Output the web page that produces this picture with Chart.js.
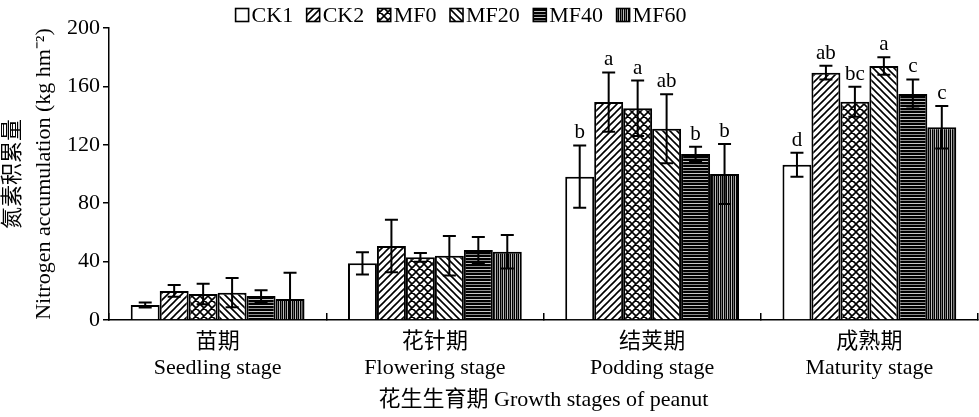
<!DOCTYPE html>
<html><head><meta charset="utf-8">
<script src="https://cdn.jsdelivr.net/npm/chart.js@4.4.1/dist/chart.umd.min.js"></script>
<style>html,body{margin:0;padding:0;background:#fff;}#wrap{width:979px;height:417px;}</style>
</head><body><div id="wrap"><canvas id="c" width="979" height="417"></canvas></div>
<script>
// ---- data ----
const stages = [['苗期', 'Seedling stage'], ['花针期', 'Flowering stage'], ['结荚期', 'Podding stage'], ['成熟期', 'Maturity stage']];
const seriesNames = ['CK1', 'CK2', 'MF0', 'MF20', 'MF40', 'MF60'];
const ck1 = [10.3, 38.8, 98.2, 106.4];
const ck1Sd = [1.7, 7.6, 21.4, 8.2];
const ck1Sig = ['', '', 'b', 'd'];
const ck2 = [19.9, 50.7, 149.3, 169.4];
const ck2Sd = [4.0, 18.0, 20.3, 4.7];
const ck2Sig = ['', '', 'a', 'ab'];
const mf0 = [17.8, 42.9, 145.0, 149.5];
const mf0Sd = [7.0, 3.0, 19.0, 10.3];
const mf0Sig = ['', '', 'a', 'bc'];
const mf20 = [18.7, 44.0, 131.0, 174.0];
const mf20Sd = [10.0, 13.5, 23.6, 6.0];
const mf20Sig = ['', '', 'ab', 'a'];
const mf40 = [16.4, 47.9, 113.7, 154.8];
const mf40Sd = [4.0, 9.0, 5.0, 10.0];
const mf40Sig = ['', '', 'b', 'c'];
const mf60 = [14.4, 46.8, 100.0, 132.0];
const mf60Sd = [18.0, 11.5, 20.5, 14.6];
const mf60Sig = ['', '', 'b', 'c'];
const yTicks = [0, 40, 80, 120, 160, 200];
const yTitle = ['氮素积累量', 'Nitrogen accumulation (kg hm⁻²)'];
const xTitle = '花生生育期 Growth stages of peanut';

const FONT = "'Liberation Serif', 'Noto Sans CJK SC', serif";

// ---- patterns ----
function makePattern(kind) {
  const c = document.createElement('canvas');
  const g = c.getContext('2d');
  if (kind === 'white') { c.width = c.height = 4; g.fillStyle = '#fff'; g.fillRect(0, 0, 4, 4); return g.createPattern(c, 'repeat'); }
  if (kind === 'h' || kind === 'v') {
    const cols = ['#000', '#000', '#8a8a8a', '#000', '#000', '#c8c8c8'];
    if (kind === 'h') { c.width = 4; c.height = cols.length; cols.forEach((col, i) => { g.fillStyle = col; g.fillRect(0, i, 4, 1); }); }
    else { const vc = ['#000', '#777', '#000', '#bdbdbd']; c.width = vc.length; c.height = 4; vc.forEach((col, i) => { g.fillStyle = col; g.fillRect(i, 0, 1, 4); }); }
    return g.createPattern(c, 'repeat');
  }
  const s = kind === 'cross' ? 8 : 7;
  c.width = c.height = s;
  g.fillStyle = '#fff'; g.fillRect(0, 0, s, s);
  g.strokeStyle = '#000'; g.lineWidth = 1.6;
  g.beginPath();
  if (kind === 'fwd' || kind === 'cross') {
    g.moveTo(-s, s); g.lineTo(s, -s);
    g.moveTo(0, s); g.lineTo(s, 0);
    g.moveTo(0, 2 * s); g.lineTo(2 * s, 0);
  }
  if (kind === 'back' || kind === 'cross') {
    g.moveTo(-s, 0); g.lineTo(s, 2 * s);
    g.moveTo(0, 0); g.lineTo(s, s);
    g.moveTo(0, -s); g.lineTo(2 * s, s);
  }
  g.stroke();
  return g.createPattern(c, 'repeat');
}
const fills = [makePattern('white'), makePattern('fwd'), makePattern('cross'), makePattern('back'), makePattern('h'), makePattern('v')];

const values = [ck1, ck2, mf0, mf20, mf40, mf60];
const sds = [ck1Sd, ck2Sd, mf0Sd, mf20Sd, mf40Sd, mf60Sd];
const sigs = [ck1Sig, ck2Sig, mf0Sig, mf20Sig, mf40Sig, mf60Sig];

const datasets = seriesNames.map((name, i) => ({
  label: name,
  data: values[i],
  sd: sds[i],
  sig: sigs[i],
  backgroundColor: fills[i],
  borderColor: '#000',
  borderWidth: 2,
  categoryPercentage: 0.8,
  barPercentage: 1.0
}));

// ---- plugins ----
const errorBars = {
  id: 'errorBars',
  afterDatasetsDraw(chart) {
    const { ctx, scales: { y } } = chart;
    ctx.save();
    ctx.strokeStyle = '#000';
    ctx.lineWidth = 2;
    ctx.fillStyle = '#000';
    ctx.font = "21px " + FONT;
    ctx.textAlign = 'center';
    ctx.textBaseline = 'bottom';
    chart.data.datasets.forEach((ds, di) => {
      const meta = chart.getDatasetMeta(di);
      meta.data.forEach((bar, i) => {
        const m = ds.data[i], e = ds.sd[i];
        const yt = y.getPixelForValue(m + e);
        let yb = y.getPixelForValue(m - e);
        const clamped = yb > y.bottom;
        if (clamped) yb = y.bottom;
        const x = bar.x, hw = 6.5;
        ctx.beginPath();
        ctx.moveTo(x, yt); ctx.lineTo(x, yb);
        ctx.moveTo(x - hw, yt); ctx.lineTo(x + hw, yt);
        if (!clamped) { ctx.moveTo(x - hw, yb); ctx.lineTo(x + hw, yb); }
        ctx.stroke();
        if (ds.sig[i]) ctx.fillText(ds.sig[i], x, yt - 2);
      });
    });
    ctx.restore();
  }
};

const customLegend = {
  id: 'customLegend',
  afterDraw(chart) {
    const { ctx } = chart;
    const box = 13, gapText = 3, gapItem = 13.5, centerX = 461, baseY = 22;
    ctx.save();
    ctx.font = "22px " + FONT;
    ctx.textBaseline = 'alphabetic';
    ctx.textAlign = 'left';
    const items = chart.data.datasets.map(ds => ({ ds, w: box + gapText + ctx.measureText(ds.label).width }));
    const total = items.reduce((a, it) => a + it.w, 0) + gapItem * (items.length - 1);
    let x = centerX - total / 2;
    items.forEach(it => {
      ctx.fillStyle = it.ds.backgroundColor;
      ctx.fillRect(x, baseY - box - 0.5, box, box);
      ctx.strokeStyle = '#000'; ctx.lineWidth = 1.6;
      ctx.strokeRect(x, baseY - box - 0.5, box, box);
      ctx.fillStyle = '#000';
      ctx.fillText(it.ds.label, x + box + gapText, baseY);
      x += it.w + gapItem;
    });
    ctx.restore();
  }
};

new Chart(document.getElementById('c'), {
  type: 'bar',
  data: { labels: stages, datasets },
  plugins: [errorBars, customLegend],
  options: {
    responsive: false,
    animation: false,
    devicePixelRatio: 1,
    layout: { padding: { top: 28, right: 1, left: 0, bottom: 0 } },
    plugins: { legend: { display: false }, tooltip: { enabled: false } },
    scales: {
      x: {
        grid: { display: true, drawOnChartArea: false, offset: true, drawTicks: true, tickLength: -7, color: '#000', lineWidth: 1.5 },
        border: { display: true, color: '#000', width: 1.5 },
        ticks: { color: '#000', padding: 16, maxRotation: 0, font: { family: FONT, size: 22, lineHeight: 1.2 } },
        title: { display: true, text: xTitle, color: '#000', font: { family: FONT, size: 22, lineHeight: 1.2 }, padding: { top: 0, bottom: 4 } },
        afterFit(s) { s.height = 97; }
      },
      y: {
        min: 0, max: 200,
        afterBuildTicks(s) { s.ticks = yTicks.map(v => ({ value: v })); },
        grid: { display: true, drawOnChartArea: false, drawTicks: true, tickLength: 6, color: '#000', lineWidth: 1.5 },
        border: { display: true, color: '#000', width: 1.5 },
        ticks: { color: '#000', padding: 3, font: { family: FONT, size: 22 } },
        title: { display: true, text: yTitle, color: '#000', font: { family: FONT, size: 22, lineHeight: 1.4 }, padding: { top: -2, bottom: 0 } },
        afterFit(s) { s.width = 109; }
      }
    }
  }
});
</script></body></html>
